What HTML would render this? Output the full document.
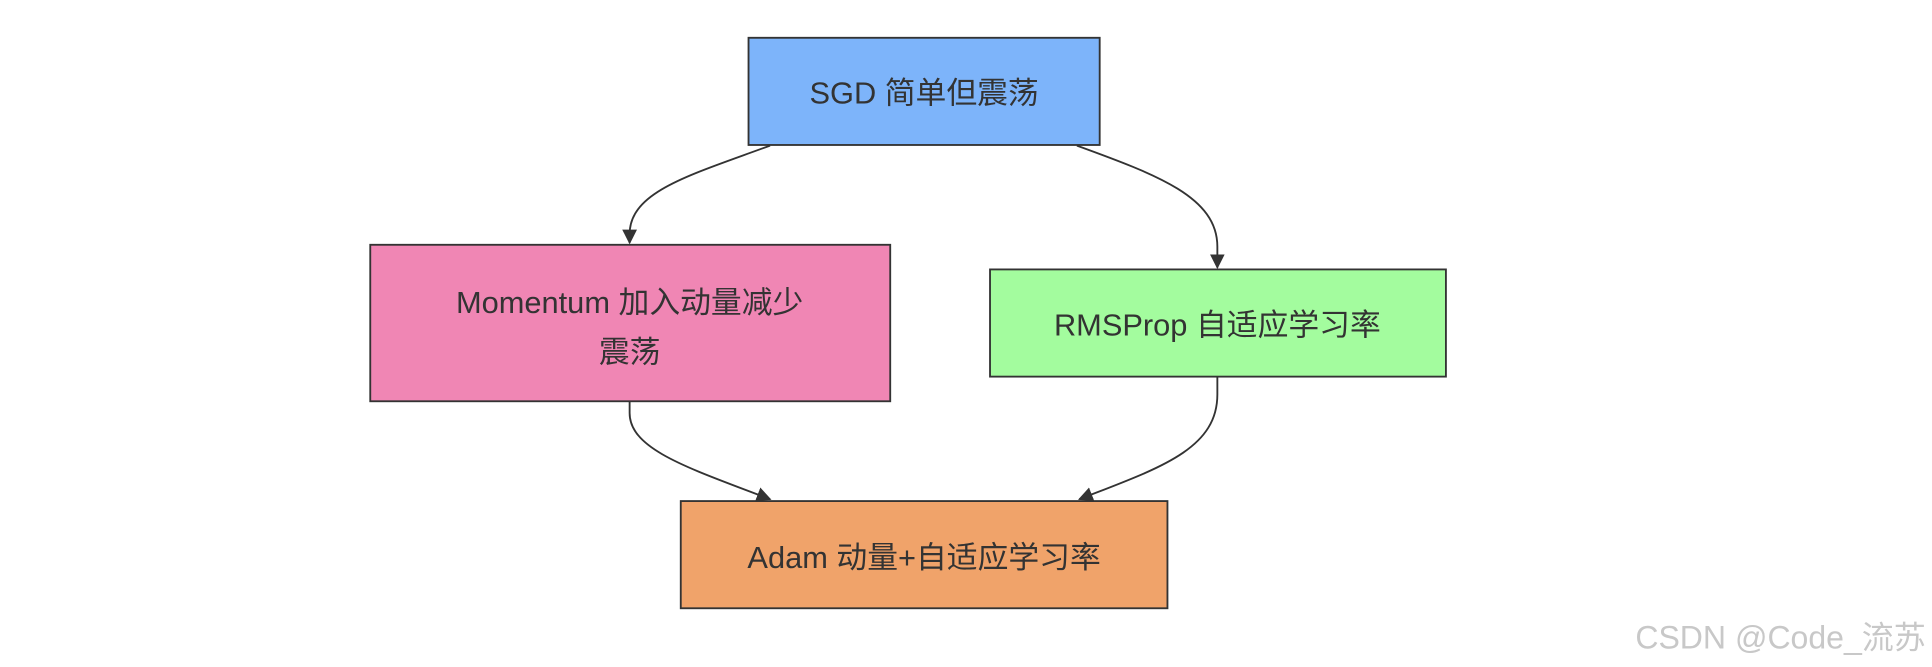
<!DOCTYPE html>
<html><head><meta charset="utf-8"><style>
html,body{margin:0;padding:0;background:#fff;width:1932px;height:667px;overflow:hidden}
svg{display:block}
text{font-family:"Liberation Sans","Noto Sans CJK SC",sans-serif;fill:#333}
</style></head><body>
<svg width="1932" height="667" viewBox="0 0 1568 541" xmlns="http://www.w3.org/2000/svg">
<defs><marker id="a" viewBox="0 0 10 10" refX="9" refY="5" markerWidth="8" markerHeight="8" orient="auto"><path d="M0,0L10,5L0,10z" fill="#333"/></marker></defs>
<g fill="none" stroke="#333" stroke-width="1.5">
<path d="M625,118 C560,142 511,155 511,190 L511,197" marker-end="url(#a)"/>
<path d="M874,118 C940,142 988,160 988,200 L988,217" marker-end="url(#a)"/>
<path d="M511,326 L511,335 C511,365 560,380 625,405" marker-end="url(#a)"/>
<path d="M988,306 L988,320 C988,365 940,380 876,405" marker-end="url(#a)"/>
</g>
<g stroke="#333" stroke-width="1.5">
<rect x="607.5" y="30.5" width="285" height="87" fill="#7db4fa"/>
<rect x="300.5" y="198.5" width="422" height="127" fill="#f086b4"/>
<rect x="803.5" y="218.5" width="370" height="87" fill="#a3fc9e"/>
<rect x="552.5" y="406.5" width="395" height="87" fill="#f0a36a"/>
</g>
<g font-size="25" text-anchor="middle">
<text x="750" y="84">SGD 简单但震荡</text>
<text x="511" y="254">Momentum 加入动量减少</text>
<text x="511" y="294">震荡</text>
<text x="988" y="272">RMSProp 自适应学习率</text>
<text x="750" y="461">Adam 动量+自适应学习率</text>
</g>
<text x="1563" y="526" font-size="26" text-anchor="end" style="fill:#c8c8c8">CSDN @Code_流苏</text>
</svg>
</body></html>
